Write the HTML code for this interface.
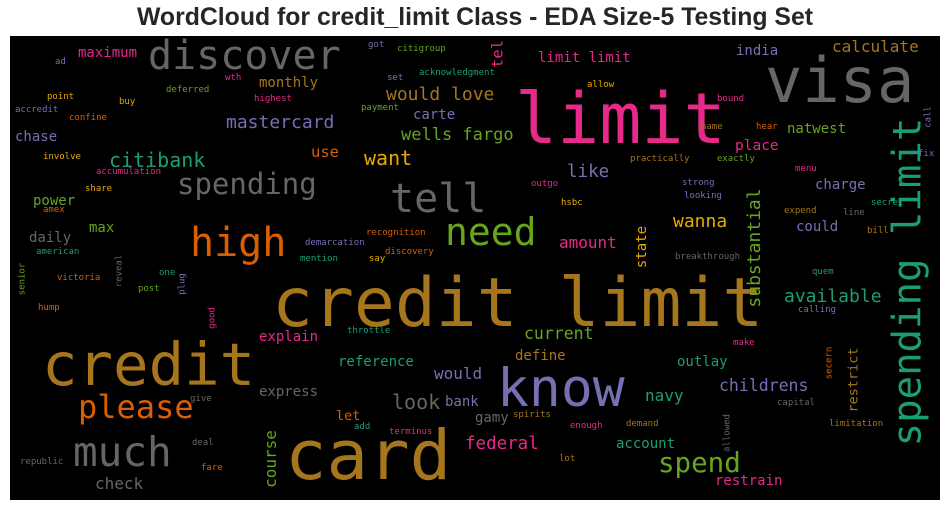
<!DOCTYPE html>
<html><head><meta charset="utf-8">
<style>
html,body{margin:0;padding:0;background:#fff;}
#root{position:relative;width:950px;height:511px;overflow:hidden;background:#fff;}
#title{position:absolute;left:0;width:950px;top:4px;text-align:center;font-family:"Liberation Sans",sans-serif;font-weight:bold;font-size:24.8px;color:#262626;line-height:28px;}
#cloud{position:absolute;left:10px;top:36px;width:930px;height:464px;background:#000;}
.w{position:absolute;font-family:"DejaVu Sans Mono","Liberation Mono",monospace;line-height:1;white-space:nowrap;}
</style></head>
<body>
<div id="root">
<div id="title">WordCloud for credit_limit Class - EDA Size-5 Testing Set</div>
<div id="cloud"></div>
</div>
<script>
// word cloud data: words, weights (font size), colour index
const words = ["credit limit","card","limit","visa","credit","know","discover","tell","high","need","much","spending limit","please","spending","spend","citibank","want","mastercard","would love","available","wanna","substantial","wells fargo","like","federal","childrens","current","amount","calculate","childrens2","navy","would","check","course","look","use","tel","maximum","monthly","chase","power","max","daily","explain","express","limit limit","carte","india","natwest","place","charge","could","define","reference","bank","let","gamy","outlay","account","restrain","state","restrict","ad","wth","deferred","point","buy","highest","accredit","confine","involve","accumulation","share","amex","american","victoria","one","post","hump","give","deal","republic","fare","got","citigroup","set","acknowledgment","allow","payment","outgo","hsbc","recognition","demarcation","discovery","mention","say","throttle","spirits","add","terminus","enough","lot","bound","name","hear","practically","exactly","fix","menu","strong","looking","secret","expend","line","bill","breakthrough","quem","calling","make","capital","demand","limitation","senior","reveal","plug","good","secern","allowed","call"];
const weights = [68,69,70,62,59,53,40,40,40,38,41,39,32,29,27.5,20,20,18,18,18,18,18,17,17.5,17.5,16.5,16.5,16,16,0,16,16,16,16,20,15.5,15.5,14,14,14,14,14,14,14,14,14,14,14,14,14.5,14,14,14,14,14,13.5,14,14,14,14,14,13.5,9,9,9,9,9,9,9,9,9,9,9,9,9,9,9,9,9,9,9,9,9,9,9,9,9,9,9,9,9,9,9,9,9,9,9,9,9,9,9,9,9,9,9,9,9,9,9,9,9,9,9,9,9,9,9,9,9,9,9,9,9,9,9,9,9,9,9];
const colorIdx = [6,6,3,7,6,2,7,7,1,4,7,0,1,7,4,0,5,2,6,0,5,4,4,2,3,2,4,3,6,2,0,2,7,4,7,1,3,3,6,2,4,4,7,3,7,3,2,2,4,3,2,2,6,0,2,1,7,0,0,3,5,6,2,3,4,5,5,3,2,1,5,3,5,1,0,1,0,4,1,7,7,7,1,2,4,2,0,5,4,3,5,1,2,1,0,5,0,6,0,3,3,6,3,6,1,6,4,2,3,2,2,0,6,7,6,7,0,2,3,7,6,6,4,7,2,3,1,7,2];
const rotated = [0,0,0,0,0,0,0,0,0,0,0,1,0,0,0,0,0,0,0,0,0,1,0,0,0,0,0,0,0,0,0,0,0,1,0,0,1,0,0,0,0,0,0,0,0,0,0,0,0,0,0,0,0,0,0,0,0,0,0,0,1,1,0,0,0,0,0,0,0,0,0,0,0,0,0,0,0,0,0,0,0,0,0,0,0,0,0,0,0,0,0,0,0,0,0,0,0,0,0,0,0,0,0,0,0,0,0,0,0,0,0,0,0,0,0,0,0,0,0,0,0,0,1,1,1,1,1,1,1];
const palette = ["#1b9e77","#d95f02","#7570b3","#e7298a","#66a61e","#e6ab02","#a6761d","#666666"];
// layout (page px): horizontal = [left, baseline]; rotated = [centerX, centerY]
const layout = [[272,328],[285,480],[515,143],[765,102],[42,385],[497,407],[148,70],[390,213],[190,257],[445,245],[73,467],[908,282],[78,418],[177,195],[658,473],[109,167],[364,165],[226,129],[386,101],[784,303],[673,228],[755,248],[401,141],[567,179],[465,451],[719,392],[524,340],[559,249],[832,53],[0,0],[645,402],[434,380],[95,490],[271,459],[392,409],[311,158],[498,54],[78,58],[259,88],[15,142],[33,206],[89,233],[29,243],[259,342],[259,397],[538,63],[413,120],[736,56],[787,134],[735,151],[815,190],[796,232],[515,361],[338,367],[445,407],[336,421],[475,423],[677,367],[616,449],[715,486],[642,247],[854,380],[55,66],[225,82],[166,94],[47,101],[119,106],[254,103],[15,114],[69,122],[43,161],[96,176],[85,193],[43,214],[36,256],[57,282],[159,277],[138,293],[38,312],[190,403],[192,447],[20,466],[201,472],[368,49],[397,53],[387,82],[419,77],[587,89],[361,112],[531,188],[561,207],[366,237],[305,247],[385,256],[300,263],[369,263],[347,335],[513,419],[354,431],[389,436],[570,430],[559,463],[717,103],[701,131],[756,131],[630,163],[717,163],[918,158],[795,173],[682,187],[684,200],[871,207],[784,215],[843,217],[867,235],[675,261],[812,276],[798,314],[733,347],[777,407],[626,428],[829,428],[23,279],[120,271],[183,284],[213,318],[830,363],[728,433],[929,117]];

const cloud = document.getElementById('cloud');
for (let i = 0; i < words.length; i++) {
  const s = weights[i];
  if (!s) continue;
  const el = document.createElement('span');
  el.className = 'w';
  el.textContent = words[i];
  el.style.fontSize = s + 'px';
  el.style.color = palette[colorIdx[i]];
  const p = layout[i];
  if (rotated[i]) {
    el.style.left = (p[0] - 10) + 'px';
    el.style.top = (p[1] - 36) + 'px';
    el.style.transform = 'translate(-50%,-50%) rotate(-90deg)';
  } else {
    el.style.left = (p[0] - 10) + 'px';
    el.style.top = (p[1] - 0.846 * s - 36) + 'px';
  }
  
  
  cloud.appendChild(el);
}
</script>
</body></html>
